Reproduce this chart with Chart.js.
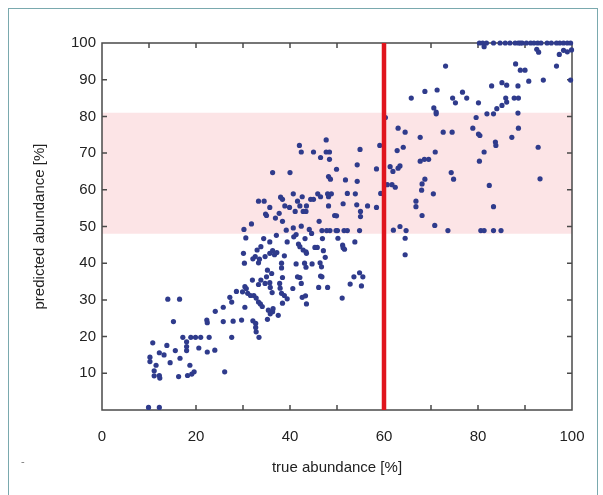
<!DOCTYPE html>
<html lang="en">
<head>
    <meta charset="UTF-8">
    <title>True vs predicted abundance</title>
    <script src="https://cdn.jsdelivr.net/npm/chart.js"></script>
    <style>
        html, body { margin: 0; padding: 0; background: #fff; overflow: hidden; }
        .frame { position: absolute; left: 8px; top: 8px; width: 590px; height: 500px; border: 1px solid #7aa9ae; box-sizing: border-box; }
        .wrap { position: absolute; left: 0; top: 0; width: 603px; height: 495px; }
        .dash { position: absolute; left: 21px; top: 455px; font: 11px "Liberation Sans", Arial, sans-serif; color: #777; }
    </style>
</head>
<body>
    <div class="frame"></div>
    <div class="wrap"><canvas id="scatter"></canvas></div>
    <div class="dash">-</div>
    <script>
        // x = true abundance [%], y = predicted abundance [%]
        const trueAbundance = [
            9.9, 12.2, 10.8, 10.2, 10.2, 11.5, 11.1, 11.1, 12.2, 12.3,
            12.2, 13.2, 13.8, 14.5, 14.0, 16.5, 15.2, 15.6, 16.6, 16.3,
            17.2, 18.0, 18.0, 18.0, 18.7, 18.2, 19.1, 19.6, 18.9, 19.9,
            21.0, 20.6, 22.4, 22.8, 24.0, 22.3, 24.1, 25.8, 25.8, 26.1, 22.4,
            // 30-42 %
            33.8, 33.0, 32.6, 30.1, 30.3, 32.1, 33.5, 33.3, 34.7, 35.7,
            36.7, 36.3, 37.2, 38.8, 39.4, 35.7, 41.8, 41.3, 38.2, 38.2,
            38.4, 35.0, 35.2, 36.1, 35.7, 33.8, 32.0, 33.3, 34.7, 35.8,
            37.8, 37.9, 41.6, 40.6, 38.2, 38.8, 39.4, 38.4, 30.4, 29.9,
            28.6, 27.2, 27.6, 30.7, 31.0, 31.6, 32.3, 32.8, 33.3, 33.7,
            34.1, 30.4, 35.4, 36.4, 35.8, 37.5, 35.2, 32.1, 29.7, 27.9,
            32.7, 32.7, 32.8, 33.4, 27.6, 36.3, 36.2,
            // 42-48 %
            42.1, 42.8, 43.4, 43.5, 45.3, 45.8, 47.1, 47.5, 43.1, 43.4,
            44.7, 46.4, 46.7, 42.1, 42.4, 46.5, 46.8, 46.1, 48.0, 42.6,
            43.3, 43.5,
            30.6, 34.4, 37.1, 40.8, 41.3, 43.2, 39.2, 44.6, 46.8, 47.8, 46.9,
            // upper part, left of 48 %
            42.0, 42.4, 45.0, 47.7, 47.7, 48.4, 46.5, 48.4, 49.9, 48.2,
            48.6, 36.3, 40.0, 33.3, 34.5, 38.0, 38.4, 40.7, 42.6, 44.4,
            45.0, 45.9, 46.5, 48.0, 48.8, 48.2, 35.7, 38.9, 39.9, 41.6,
            42.1, 41.1, 42.8, 43.4, 48.2, 34.8, 35.0, 37.7, 36.9, 38.4,
            49.5, 46.2, 31.8, 30.2, 40.7, 44.1, 43.5, 42.4,
            // saturated at 100 %
            80.3, 81.0, 81.8, 83.3, 84.7, 85.8, 86.8, 87.9, 88.6, 89.0,
            89.4, 90.3, 91.2, 91.9, 92.7, 93.4, 94.7, 95.6, 96.7, 97.4,
            98.2, 99.0, 99.7,
            // right part
            81.3, 92.5, 92.9, 97.3, 98.2, 99.0, 99.9, 73.1, 88.0, 89.0,
            90.0, 96.7, 82.9, 85.1, 86.1, 88.5, 90.8, 93.9, 99.7, 68.7,
            71.3, 76.7, 77.6, 74.6, 75.2, 65.8, 80.1, 70.6, 71.1, 71.1,
            85.9, 85.1, 84.0, 83.3, 81.9, 86.1, 87.7, 88.6, 88.5, 79.6,
            60.3, 63.0, 64.5, 67.7, 72.6, 74.5, 78.9, 80.1, 80.4, 83.7,
            83.8, 87.2, 88.6, 92.8, 59.1, 54.9, 62.8, 64.1, 70.9, 67.7,
            68.6, 69.5, 81.3, 80.3, 54.3, 58.4, 61.3, 61.9, 63.0, 63.4,
            74.3, 74.8, 51.8, 54.3, 52.2, 53.9, 60.7, 61.7, 62.4, 59.3,
            68.7, 68.1, 68.0, 82.4, 93.2, 70.5, 66.8, 66.8, 68.1, 51.3,
            54.2, 56.5, 58.4, 49.9, 55.0, 55.0, 83.3,
            48.5, 49.8, 50.1, 51.5, 52.2, 54.8, 50.2, 51.2, 51.6, 51.3,
            53.8, 53.6, 52.8, 54.8, 55.5, 55.2, 51.1, 62.0, 63.4, 64.7,
            64.5, 64.5, 70.8, 73.6, 80.6, 81.3, 83.3, 84.9
        ];
        const predictedAbundance = [
            0.7, 0.7, 18.3, 14.4, 13.2, 12.2, 10.7, 9.3, 9.4, 8.7,
            15.6, 15.0, 17.6, 12.9, 30.2, 30.2, 24.1, 16.2, 14.1, 9.1,
            19.8, 18.6, 17.3, 16.2, 12.2, 9.4, 9.8, 10.4, 19.8, 19.8,
            19.8, 16.9, 15.8, 19.8, 16.3, 24.5, 26.9, 28.0, 24.1, 10.4, 23.8,
            // 30-42 %
            44.5, 43.6, 41.8, 42.7, 40.0, 41.2, 41.1, 40.1, 41.8, 42.7,
            42.3, 43.4, 42.9, 42.0, 45.8, 45.8, 45.2, 39.8, 40.0, 38.7,
            36.1, 36.3, 38.1, 37.2, 34.7, 35.4, 35.4, 34.2, 34.5, 33.4,
            34.5, 33.2, 36.3, 33.1, 31.8, 31.2, 30.3, 29.1, 33.6, 32.2,
            32.3, 30.7, 29.4, 33.1, 31.8, 31.2, 31.2, 30.5, 29.4, 28.9,
            28.2, 28.0, 27.2, 27.6, 26.2, 25.8, 24.7, 24.3, 24.5, 24.2,
            23.6, 22.5, 21.3, 19.8, 19.8, 26.8, 32.0,
            // 42-48 %
            44.5, 43.6, 43.1, 42.7, 44.3, 44.3, 43.4, 41.6, 40.0, 38.9,
            39.8, 40.1, 39.0, 36.1, 34.5, 36.5, 36.3, 33.4, 33.4, 30.7,
            31.1, 28.9,
            46.9, 46.7, 47.6, 47.2, 47.8, 46.7, 49.0, 48.1, 48.9, 48.9, 46.7,
            // upper part, left of 48 %
            72.1, 70.3, 70.3, 73.6, 70.3, 70.3, 68.8, 68.3, 65.6, 63.6,
            62.9, 64.7, 64.7, 56.9, 56.9, 58.0, 57.4, 58.9, 58.1, 57.4,
            57.4, 58.9, 58.1, 58.9, 58.9, 58.1, 55.2, 55.6, 55.2, 56.9,
            55.6, 54.1, 54.1, 54.1, 55.6, 53.4, 53.0, 53.6, 52.3, 51.4,
            53.0, 51.4, 50.7, 49.2, 49.6, 49.2, 55.6, 50.1,
            // saturated at 100 %
            100, 100, 100, 100, 100, 100, 100, 100, 100, 100,
            100, 100, 100, 100, 100, 100, 100, 100, 100, 100,
            100, 100, 100,
            // right part
            99.0, 98.3, 97.5, 96.9, 98.0, 97.6, 98.1, 93.7, 94.3, 92.6,
            92.6, 93.7, 88.3, 89.2, 88.5, 88.3, 89.6, 89.9, 89.9, 86.8,
            87.2, 86.6, 85.0, 85.0, 83.7, 85.0, 83.7, 82.3, 81.2, 80.7,
            85.0, 83.0, 82.1, 80.7, 80.7, 83.9, 85.0, 85.0, 80.9, 79.7,
            79.7, 76.8, 75.7, 74.3, 75.7, 75.7, 76.8, 75.2, 74.8, 73.0,
            72.1, 74.3, 76.8, 71.6, 72.1, 71.0, 70.7, 71.6, 70.3, 67.8,
            68.3, 68.3, 70.3, 67.8, 66.8, 65.7, 66.3, 65.0, 65.9, 66.5,
            64.7, 62.9, 62.7, 62.3, 59.0, 58.9, 61.4, 61.4, 60.7, 59.0,
            62.9, 61.6, 59.9, 61.2, 63.0, 58.9, 56.9, 55.4, 53.0, 56.2,
            55.9, 55.6, 55.2, 52.9, 54.1, 52.7, 55.4,
            48.9, 48.9, 48.9, 48.9, 48.9, 48.9, 46.8, 44.9, 43.8, 44.2,
            45.8, 36.3, 34.3, 37.4, 36.3, 33.8, 30.5, 49.0, 50.0, 48.9,
            46.8, 42.3, 50.3, 48.9, 48.9, 48.9, 48.9, 48.9
        ];

        const cutoff = 60;          // vertical red line
        const bandLow = 48;         // shaded range
        const bandHigh = 81;
        const xTickMarks = [10, 20, 30, 40, 50, 60, 70, 80, 90];
        const yTickMarks = [10, 20, 30, 40, 50, 60, 70, 80, 90];

        const points = trueAbundance.map((x, i) => ({ x: x, y: predictedAbundance[i] }));

        // box around the plot with gnuplot-like inward ticks
        const framePlugin = {
            id: 'frame',
            afterDatasetDraw(chart, args) {
                if (args.index !== 2) return;
                const { ctx, chartArea: a, scales: { x, y } } = chart;
                ctx.save();
                ctx.strokeStyle = '#4a4a4a';
                ctx.lineWidth = 1.5;
                ctx.beginPath();
                xTickMarks.forEach(v => {
                    const px = x.getPixelForValue(v);
                    ctx.moveTo(px, a.bottom); ctx.lineTo(px, a.bottom - 5);
                    ctx.moveTo(px, a.top); ctx.lineTo(px, a.top + 5);
                });
                yTickMarks.forEach(v => {
                    const py = y.getPixelForValue(v);
                    ctx.moveTo(a.left, py); ctx.lineTo(a.left + 5, py);
                    ctx.moveTo(a.right, py); ctx.lineTo(a.right - 5, py);
                });
                ctx.stroke();
                ctx.strokeRect(a.left, a.top, a.width, a.height);
                ctx.restore();
            }
        };

        Chart.defaults.font.family = '"Liberation Sans", Arial, Helvetica, sans-serif';
        Chart.defaults.font.size = 15;
        Chart.defaults.color = '#222';

        new Chart(document.getElementById('scatter'), {
            type: 'scatter',
            data: {
                datasets: [
                    {
                        type: 'line',
                        label: 'cut-off',
                        data: [{ x: cutoff, y: 0 }, { x: cutoff, y: 100 }],
                        borderColor: '#e0151d',
                        borderWidth: 4.5,
                        pointRadius: 0,
                        fill: false,
                        order: 1
                    },
                    {
                        label: 'samples',
                        data: points,
                        backgroundColor: '#2f3b8c',
                        borderWidth: 0,
                        pointRadius: 2.6,
                        clip: false,
                        order: 2
                    },
                    {
                        type: 'line',
                        label: 'range',
                        data: [{ x: 0, y: bandHigh }, { x: 100, y: bandHigh }],
                        borderWidth: 0,
                        borderColor: 'rgba(0,0,0,0)',
                        backgroundColor: '#fce4e6',
                        pointRadius: 0,
                        fill: { value: bandLow },
                        order: 3
                    }
                ]
            },
            options: {
                responsive: true,
                maintainAspectRatio: false,
                animation: false,
                layout: { padding: { top: 43, right: 31, bottom: 0, left: 0 } },
                plugins: {
                    legend: { display: false },
                    tooltip: { enabled: false }
                },
                scales: {
                    x: {
                        type: 'linear',
                        min: 0,
                        max: 100,
                        grid: { display: false, drawTicks: false },
                        border: { display: false },
                        ticks: { stepSize: 20, padding: 18 },
                        title: { display: true, text: 'true abundance [%]', padding: { top: 0, bottom: 18 } },
                        afterFit: s => { s.height = 85; }
                    },
                    y: {
                        type: 'linear',
                        min: 0,
                        max: 100,
                        grid: { display: false, drawTicks: false },
                        border: { display: false },
                        ticks: { stepSize: 10, padding: 6, callback: v => (v === 0 ? '' : v) },
                        title: { display: true, text: 'predicted abundance [%]', padding: { top: 31, bottom: 0 } },
                        afterFit: s => { s.width = 102; }
                    }
                }
            },
            plugins: [framePlugin]
        });
    </script>
</body>
</html>
